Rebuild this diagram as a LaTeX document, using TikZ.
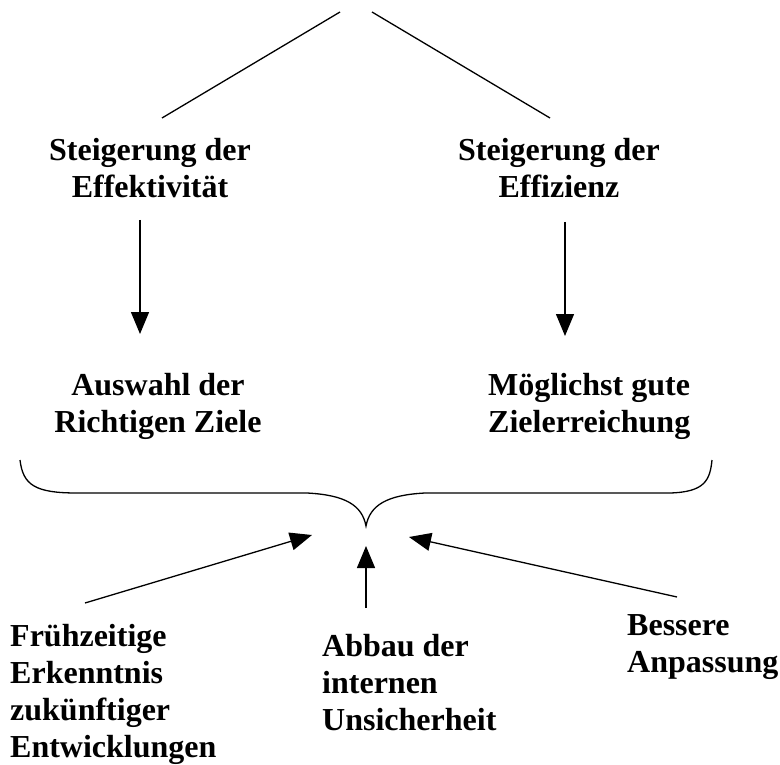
\documentclass[tikz,border=0pt]{standalone}
\usepackage{fontspec}
\setmainfont{Liberation Serif}
\usetikzlibrary{arrows.meta}
\tikzstyle{txt} = [font={\fontsize{32}{37}\selectfont\bfseries}, inner sep=0pt]
\tikzstyle{ctr} = [txt, align=center, anchor=base]
\tikzstyle{lft} = [txt, align=left, anchor=base west]
\tikzstyle{ln} = [line width=1.3pt]
\tikzstyle{arr} = [ln, -{Triangle[length=22pt,width=18pt]}]

\begin{document}
\begin{tikzpicture}[x=1pt,y=-1pt]
  \useasboundingbox (0,0) rectangle (780,765);
  % upper part
  \node[ctr](eff) at (150,198){Steigerung der\\Effektivität};
  \node[ctr](effz) at (559,198){Steigerung der\\Effizienz};
  \node[ctr](ausw) at (158,432){Auswahl der\\Richtigen Ziele};
  \node[lft](mgl) at (488,432){Möglichst gute\\Zielerreichung};
  \coordinate (apexl) at (340,12);
  \coordinate (apexr) at (372,12);
  \coordinate (effa) at (162,118);
  \coordinate (effza) at (550,118);
  \draw[ln](apexl)--(effa);
  \draw[ln](apexr)--(effza);
  \coordinate (effb) at (140,220);
  \coordinate (auswa) at (140,334);
  \coordinate (effzb) at (565,222);
  \coordinate (mgla) at (565,336);
  \draw[arr](effb)--(auswa);
  \draw[arr](effzb)--(mgla);
  % brace
  \coordinate (brcl) at (20,460);
  \coordinate (brcr) at (712,460);
  \coordinate (brc) at (366,526);
  \draw[ln](brcl) .. controls (23,485) and (35,493) .. (77,493) -- (307,493)
    .. controls (345,495) and (362,505) .. (brc)
    .. controls (370,505) and (387,495) .. (425,493) -- (670,493)
    .. controls (705,492) and (710,480) .. (brcr);
  % lower part
  \node[lft](frueh) at (10,757){Frühzeitige\\Erkenntnis\\zukünftiger\\Entwicklungen};
  \node[lft](abbau) at (322,730){Abbau der\\internen\\Unsicherheit};
  \node[lft](bess) at (627,672){Bessere\\Anpassung};
  \coordinate (fruehb) at (85,603);
  \coordinate (abbaub) at (366,608);
  \coordinate (bessb) at (677,597);
  \coordinate (tipl) at (312,535);
  \coordinate (tipm) at (366,546);
  \coordinate (tipr) at (409,537);
  \draw[arr](fruehb)--(tipl);
  \draw[arr](abbaub)--(tipm);
  \draw[arr](bessb)--(tipr);
\end{tikzpicture}
\end{document}
